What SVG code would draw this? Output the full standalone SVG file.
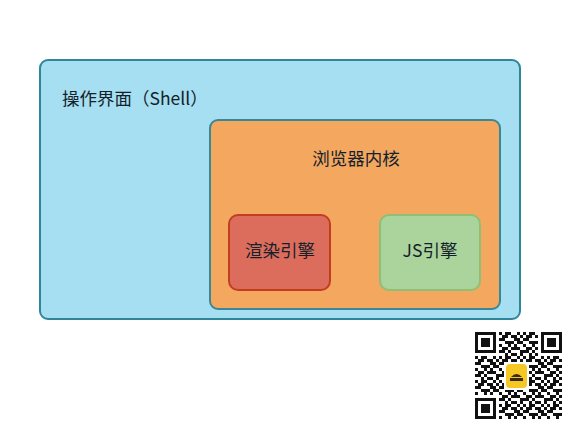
<svg xmlns="http://www.w3.org/2000/svg" width="575" height="429" viewBox="0 0 575 429">
<style>
.lbl{font-family:"Noto Sans CJK SC","Liberation Sans",sans-serif;font-size:17.5px;fill:#14212b}
</style>
<defs>
<pattern id="qr" patternUnits="userSpaceOnUse" x="475" y="332" width="24" height="24">
<path fill="#111" d="M0 0h3v3h-3zM6 0h6v3h-6zM18 0h3v3h-3zM3 3h6v3h-6zM12 3h6v3h-6zM21 3h3v3h-3zM0 6h6v3h-6zM15 6h6v3h-6zM6 9h9v3h-9zM18 9h6v3h-6zM0 12h3v3h-3zM9 12h3v3h-3zM15 12h3v3h-3zM3 15h6v3h-6zM12 15h9v3h-9zM0 18h6v3h-6zM9 18h3v3h-3zM21 18h3v3h-3zM6 21h3v3h-3zM12 21h6v3h-6zM21 21h3v3h-3z"/>
</pattern>
</defs>
<rect width="575" height="429" fill="#ffffff"/>
<g id="shell">
<rect x="40" y="60" width="480" height="259" rx="8" fill="#a5dff1" stroke="#2f8599" stroke-width="2"/>
<text class="lbl" x="62" y="105">操作界面（Shell）</text>
</g>
<g id="browser-kernel">
<rect x="210" y="120" width="290" height="189" rx="8" fill="#f3a75f" stroke="#3a8796" stroke-width="2"/>
<text class="lbl" x="356" y="165" text-anchor="middle">浏览器内核</text>
</g>
<g id="render-engine">
<rect x="229" y="215" width="101" height="75" rx="9" fill="#dc6d5d" stroke="#c23e22" stroke-width="2"/>
<text class="lbl" x="280" y="257" text-anchor="middle">渲染引擎</text>
</g>
<g id="js-engine">
<rect x="380" y="215" width="100" height="75" rx="9" fill="#abd39c" stroke="#8fbf77" stroke-width="2"/>
<text class="lbl" x="430" y="257" text-anchor="middle">JS引擎</text>
</g>
<g id="connectors"/>
<g id="qrcode">
<rect x="475" y="332" width="87" height="87" fill="url(#qr)"/>
<rect x="475" y="332" width="24" height="24" fill="#fff"/>
<rect x="538" y="332" width="24" height="24" fill="#fff"/>
<rect x="475" y="395" width="24" height="24" fill="#fff"/>
<rect x="475" y="332" width="21" height="21" fill="#111"/>
<rect x="478" y="335" width="15" height="15" fill="#fff"/>
<rect x="481" y="338" width="9" height="9" fill="#111"/>
<rect x="541" y="332" width="21" height="21" fill="#111"/>
<rect x="544" y="335" width="15" height="15" fill="#fff"/>
<rect x="547" y="338" width="9" height="9" fill="#111"/>
<rect x="475" y="398" width="21" height="21" fill="#111"/>
<rect x="478" y="401" width="15" height="15" fill="#fff"/>
<rect x="481" y="404" width="9" height="9" fill="#111"/>
<rect x="504" y="362" width="25" height="28" fill="#fff"/>
<rect x="506" y="364" width="21" height="24" rx="4" fill="#f6c824"/>
<path d="M511 377 q5.5 -6 11 0 z M510 378h13v3h-13z" fill="#3a2a10"/>
</g>
</svg>
